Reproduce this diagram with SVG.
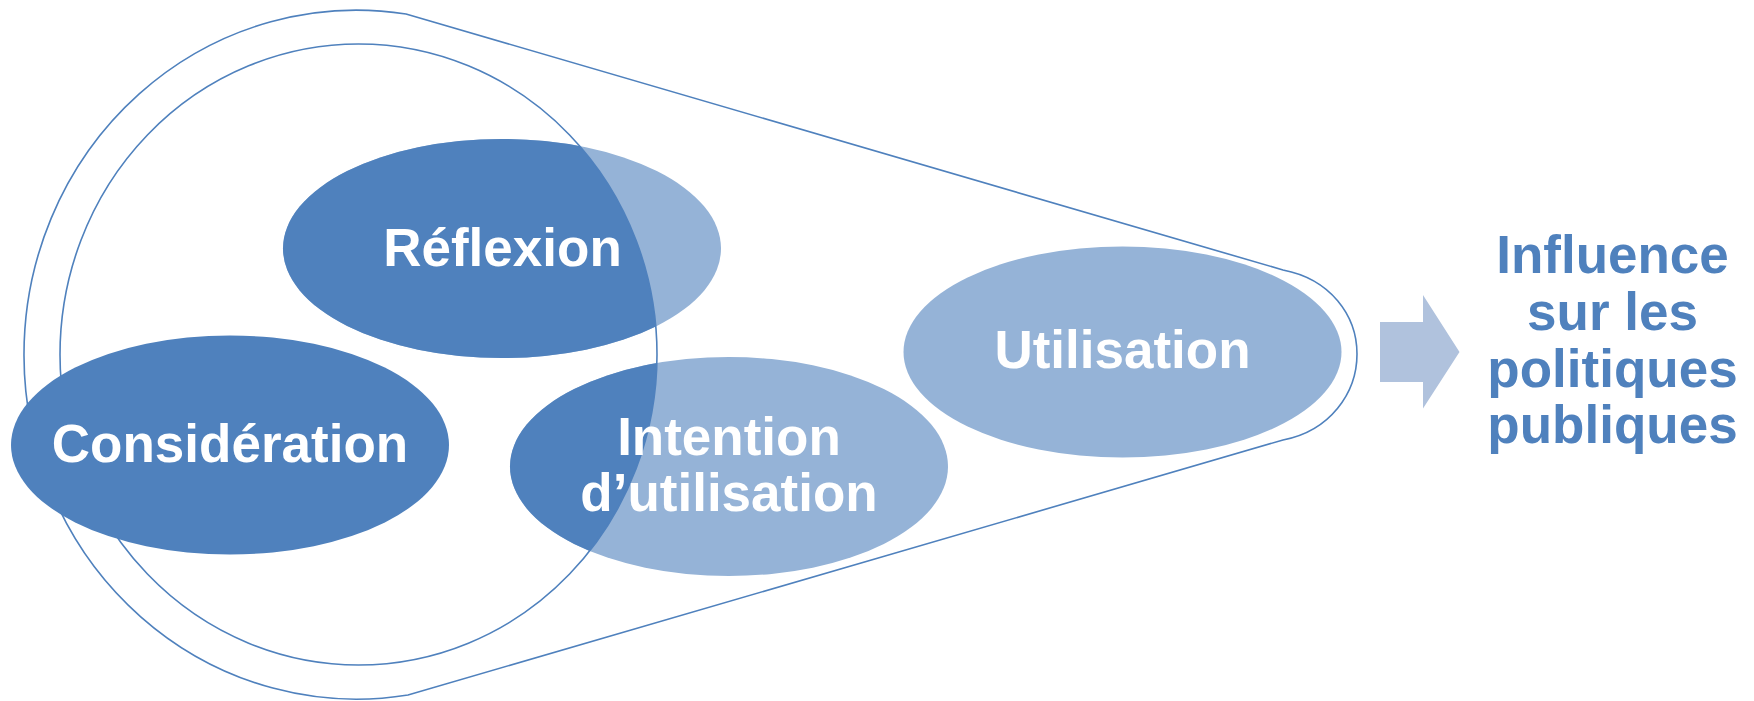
<svg xmlns="http://www.w3.org/2000/svg" width="1754" height="701" viewBox="0 0 1754 701">
  <style>
    .line { fill: none; stroke: #4F81BD; stroke-width: 1.6; }
    .dark { fill: #4F81BD; }
    .light { fill: #95B3D7; }
    .lbl { font-family: "Liberation Sans", Arial, sans-serif; font-weight: bold; font-size: 53px; fill: #FFFFFF; text-anchor: middle; }
    .out { font-family: "Liberation Sans", Arial, sans-serif; font-weight: bold; font-size: 53px; fill: #4F81BD; text-anchor: middle; }
  </style>
  <defs>
    <clipPath id="innerClip">
      <ellipse cx="358.5" cy="354.5" rx="298.5" ry="310.5"/>
    </clipPath>
  </defs>
  <rect width="1754" height="701" fill="#FFFFFF"/>

  <g id="frame">
    <path class="line" d="M406,14 L1283,270 C1330,279 1357,315 1357,354 C1357,393 1330,431 1283,440 L408,695 A332.5,344.5 0 1 1 406,14 Z"/>
  </g>

  <g id="node-reflexion-base">
    <ellipse class="light" cx="502" cy="248.5" rx="219" ry="109.5"/>
  </g>
  <g id="node-intention-base">
    <ellipse class="light" cx="729" cy="466.5" rx="219" ry="109.5"/>
  </g>
  <g id="inner-overlap" clip-path="url(#innerClip)">
    <ellipse class="dark" cx="502" cy="248.5" rx="219" ry="109.5"/>
    <ellipse class="dark" cx="729" cy="466.5" rx="219" ry="109.5"/>
  </g>
  <g id="inner-circle">
    <ellipse class="line" cx="358.5" cy="354.5" rx="298.5" ry="310.5"/>
  </g>

  <g id="node-consideration">
    <ellipse class="dark" cx="230" cy="445" rx="219" ry="109.5"/>
    <text class="lbl" x="230" y="462">Considération</text>
  </g>
  <g id="node-reflexion">
    <text class="lbl" x="502.5" y="265.5">Réflexion</text>
  </g>
  <g id="node-intention">
    <text class="lbl" x="729" y="455">Intention</text>
    <text class="lbl" x="729" y="511">d’utilisation</text>
  </g>
  <g id="node-utilisation">
    <ellipse class="light" cx="1122.5" cy="352" rx="219" ry="105.5"/>
    <text class="lbl" x="1122.5" y="368">Utilisation</text>
  </g>

  <g id="connectors">
    <polygon fill="#B0C2DD" points="1380,322 1423,322 1423,295 1459.5,352 1423,408.5 1423,382 1380,382"/>
  </g>

  <g id="node-influence">
    <text class="out" x="1612.5" y="273">Influence</text>
    <text class="out" x="1612.5" y="330">sur les</text>
    <text class="out" x="1612.5" y="387">politiques</text>
    <text class="out" x="1612.5" y="443">publiques</text>
  </g>
</svg>
